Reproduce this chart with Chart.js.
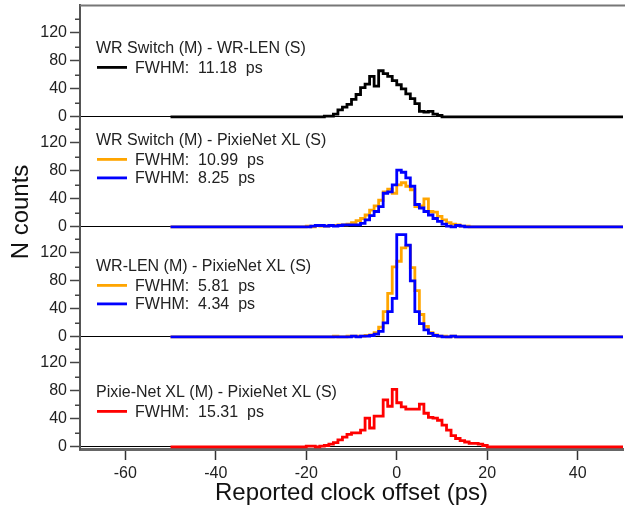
<!DOCTYPE html>
<html>
<head>
<meta charset="utf-8">
<script src="https://cdn.jsdelivr.net/npm/chart.js@4/dist/chart.umd.min.js"></script>
<style>
html, body { margin: 0; padding: 0; background: #ffffff; }
#wrap { width: 625px; height: 510px; position: relative; }
</style>
</head>
<body>
<div id="wrap"><canvas id="c" width="625" height="510"></canvas></div>
<script>
// ---------- DATA (histogram bins: each value holds from its edge to the next edge) ----------
const binEdges = [-50,
  -25, -24, -23, -22, -21, -20, -19, -18, -17, -16,
  -15, -14, -13, -12, -11, -10, -9, -8, -7, -6,
  -5, -4, -3, -2, -1, 0, 1, 2, 3, 4,
  5, 6, 7, 8, 9, 10, 11, 12, 13, 14,
  15, 16, 17, 18, 19, 20, 21, 22, 23, 24,
  25, 50];

// Panel 1: WR Switch (M) - WR-LEN (S)
const countsSwitchLen = [0,
  0, 0, 0, 0, 0, 0, 0, 0, 0, 1,
  1, 4, 10, 14, 18, 25, 32, 42, 47, 58,
  44, 66, 62, 58, 52, 46, 40, 33, 26, 19,
  8, 7, 8, 4, 2, 0, 0, 0, 0, 0,
  0, 0, 0, 0, 0, 0, 0, 0, 0, 0,
  0, 0];

// Panel 2: WR Switch (M) - PixieNet XL (S)
const countsSwitchPixieA = [0,
  0, 0, 0, 0, 0, 1, 0, 2, 1, 1,
  2, 2, 3, 3, 4, 6, 9, 12, 17, 24,
  30, 38, 50, 54, 48, 60, 63, 58, 53, 29,
  30, 40, 22, 21, 15, 10, 6, 4, 3, 1,
  1, 0, 0, 0, 0, 0, 0, 0, 0, 0,
  0, 0];
const countsSwitchPixieB = [0,
  0, 0, 0, 0, 0, 0, 1, 2, 2, 1,
  2, 1, 2, 3, 3, 3, 3, 5, 10, 16,
  22, 29, 48, 50, 60, 81, 78, 70, 58, 32,
  27, 22, 17, 12, 8, 4, 1, 0, 2, 1,
  0, 0, 0, 0, 0, 0, 0, 0, 0, 0,
  0, 0];

// Panel 3: WR-LEN (M) - PixieNet XL (S)
const countsLenPixieA = [0,
  0, 0, 0, 0, 0, 0, 0, 0, 0, 0,
  0, 1, 0, 0, 1, 1, 1, 1, 2, 3,
  6, 14, 36, 62, 100, 108, 127, 130, 99, 66,
  32, 15, 6, 3, 1, 1, 0, 1, 0, 0,
  0, 0, 0, 0, 0, 0, 0, 0, 0, 0,
  0, 0];
const countsLenPixieB = [0,
  0, 0, 0, 0, 0, 0, 0, 0, 0, 0,
  0, 0, 0, 0, 0, 1, 0, 1, 1, 2,
  4, 8, 20, 36, 55, 146, 146, 131, 80, 36,
  19, 10, 5, 2, 1, 0, 0, 1, 0, 0,
  0, 0, 0, 0, 0, 0, 0, 0, 0, 0,
  0, 0];

// Panel 4: Pixie-Net XL (M) - PixieNet XL (S)
const countsPixiePixie = [0,
  0, 0, 0, 0, 0, 1, 1, 0, 1, 2,
  4, 6, 10, 14, 18, 20, 20, 24, 41, 27,
  44, 44, 67, 58, 82, 63, 57, 54, 54, 54,
  61, 48, 42, 41, 38, 31, 24, 16, 12, 9,
  7, 5, 5, 4, 2, 0, 0, 0, 0, 0,
  0, 0];

const panelTitles = [
  'WR Switch (M) - WR-LEN (S)',
  'WR Switch (M) - PixieNet XL (S)',
  'WR-LEN (M) - PixieNet XL (S)',
  'Pixie-Net XL (M) - PixieNet XL (S)'
];
const xTickValues = [-60, -40, -20, 0, 20, 40];
const yMajorTicks = [0, 40, 80, 120];
const yMinorTicks = [20, 60, 100, 140];

// ---------- CHART ----------
const FONT = "'Liberation Sans', Arial, Helvetica, sans-serif";
Chart.defaults.font.family = FONT;
Chart.defaults.color = '#222';

const toPoints = ys => binEdges.map((x, i) => ({ x: x, y: ys[i] }));

function histo(label, ys, color, axis, order) {
  return {
    label: label, data: toPoints(ys), yAxisID: axis, xAxisID: 'x',
    borderColor: color, backgroundColor: color, borderWidth: 2.8,
    stepped: 'before', pointRadius: 0, fill: false, order: order,
    borderJoinStyle: 'miter', borderCapStyle: 'butt'
  };
}

const panelLayout = {
  y1: { title: panelTitles[0], offset: -68 },
  y2: { title: panelTitles[1], offset: -86 },
  y3: { title: panelTitles[2], offset: -70 },
  y4: { title: panelTitles[3], offset: -54 }
};

function yScale(weight, stackWeight, max) {
  return {
    type: 'linear', position: 'left', stack: 'panels', stackWeight: stackWeight, weight: weight,
    min: -3, max: max,
    afterBuildTicks: s => { s.ticks = yMajorTicks.map(v => ({ value: v })); },
    afterFit: s => { s.width = 80; s.paddingTop = 0; s.paddingBottom = 0; },
    ticks: { font: { size: 16, family: FONT }, color: '#222', padding: 3, autoSkip: false },
    grid: {
      drawOnChartArea: true, drawTicks: true,
      color: c => (c.tick && c.tick.value === 0) ? '#000000' : 'rgba(0,0,0,0)',
      lineWidth: 1, tickLength: 10, tickColor: '#444', tickWidth: 1.5
    },
    border: { display: true, color: '#555', width: 2 }
  };
}

const annotate = {
  id: 'annotate',
  afterDraw(chart) {
    const ctx = chart.ctx;
    const area = chart.chartArea;
    ctx.save();
    // top frame line
    ctx.strokeStyle = '#777';
    ctx.lineWidth = 2;
    ctx.beginPath();
    ctx.moveTo(area.left, area.top + 0.5);
    ctx.lineTo(area.right + 2, area.top + 0.5);
    ctx.stroke();

    // minor y ticks
    ['y1', 'y2', 'y3', 'y4'].forEach(id => {
      const s = chart.scales[id];
      ctx.strokeStyle = '#444';
      ctx.lineWidth = 1.5;
      yMinorTicks.forEach(v => {
        const py = Math.round(s.getPixelForValue(v)) + 0.25;
        if (py < s.top - 1 || py > s.bottom + 1) return;
        ctx.beginPath();
        ctx.moveTo(s.right - 5, py);
        ctx.lineTo(s.right, py);
        ctx.stroke();
      });
    });

    // panel legends
    ctx.font = '16px ' + FONT;
    ctx.textBaseline = 'middle';
    ctx.textAlign = 'left';
    Object.keys(panelLayout).forEach(id => {
      const s = chart.scales[id];
      const zero = s.getPixelForValue(0);
      const ty = zero + panelLayout[id].offset;
      ctx.fillStyle = '#222';
      ctx.fillText(panelLayout[id].title, 96, ty);
      let k = 1;
      chart.data.datasets.forEach(ds => {
        if (ds.yAxisID !== id) return;
        const ly = ty + 18.5 * k;
        ctx.strokeStyle = ds.borderColor;
        ctx.lineWidth = 2.8;
        ctx.beginPath();
        ctx.moveTo(97, ly);
        ctx.lineTo(127, ly);
        ctx.stroke();
        ctx.fillStyle = '#222';
        ctx.fillText(ds.label, 135, ly + 1);
        k++;
      });
    });

    // y axis title
    ctx.save();
    ctx.translate(21, 212);
    ctx.rotate(-Math.PI / 2);
    ctx.font = '24px ' + FONT;
    ctx.textAlign = 'center';
    ctx.textBaseline = 'middle';
    ctx.fillStyle = '#111';
    ctx.fillText('N counts', 0, 0);
    ctx.restore();
    ctx.restore();
  }
};

new Chart(document.getElementById('c'), {
  type: 'line',
  data: {
    datasets: [
      histo('FWHM:  11.18  ps', countsSwitchLen, '#000000', 'y1', 0),
      histo('FWHM:  10.99  ps', countsSwitchPixieA, '#FFA500', 'y2', 1),
      histo('FWHM:  8.25  ps', countsSwitchPixieB, '#0000FF', 'y2', 0),
      histo('FWHM:  5.81  ps', countsLenPixieA, '#FFA500', 'y3', 1),
      histo('FWHM:  4.34  ps', countsLenPixieB, '#0000FF', 'y3', 0),
      histo('FWHM:  15.31  ps', countsPixiePixie, '#FF0000', 'y4', 0)
    ]
  },
  options: {
    responsive: false,
    animation: false,
    events: [],
    layout: { padding: { top: 5, right: 2, left: 0, bottom: 0 } },
    plugins: { legend: { display: false }, tooltip: { enabled: false } },
    scales: {
      x: {
        type: 'linear', position: 'bottom', min: -70, max: 50,
        afterBuildTicks: s => { s.ticks = xTickValues.map(v => ({ value: v })); },
        afterFit: s => { s.height = 61; s.paddingLeft = 0; s.paddingRight = 0; },
        ticks: { font: { size: 16, family: FONT }, color: '#222', padding: 4, maxRotation: 0, autoSkip: false },
        grid: { drawOnChartArea: false, drawTicks: true, tickLength: 11, tickColor: '#333', tickWidth: 1.5 },
        border: { display: true, color: '#666', width: 3 },
        title: { display: true, text: 'Reported clock offset (ps)', font: { size: 24, family: FONT }, color: '#111', padding: { top: 0, bottom: 2 } }
      },
      y1: yScale(4, 114, 160),
      y2: yScale(3, 110, 154),
      y3: yScale(2, 110, 154),
      y4: yScale(1, 110, 154)
    }
  },
  plugins: [annotate]
});
</script>
</body>
</html>
